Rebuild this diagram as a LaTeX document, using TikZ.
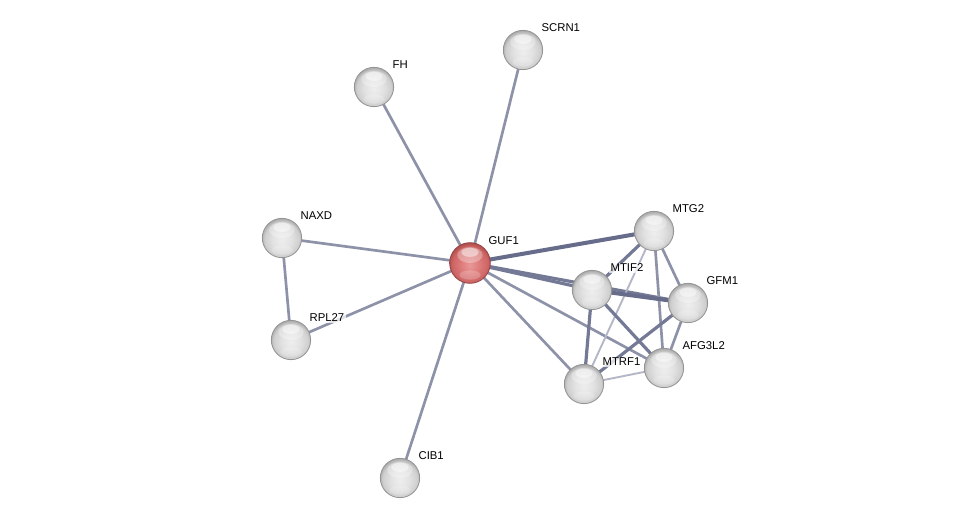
\documentclass[tikz,border=0pt]{standalone}
\usepackage{fontspec}
\setmainfont{Liberation Sans}
\definecolor{gA}{HTML}{EEEEEE}
\definecolor{gB}{HTML}{E2E2E2}
\definecolor{gC}{HTML}{CFCFCF}
\definecolor{gD}{HTML}{A4A4A4}
\definecolor{rA}{HTML}{EA9898}
\definecolor{rB}{HTML}{DD7A7A}
\definecolor{rC}{HTML}{CD6464}
\definecolor{rD}{HTML}{A84A4A}
\pgfdeclareradialshading{greyball}{\pgfpoint{0bp}{-3bp}}{%
  color(0bp)=(gA); color(12bp)=(gB); color(22bp)=(gC); color(27bp)=(gD); color(50bp)=(gD)}
\pgfdeclareradialshading{redball}{\pgfpoint{0bp}{-3bp}}{%
  color(0bp)=(rA); color(12bp)=(rB); color(22bp)=(rC); color(27bp)=(rD); color(50bp)=(rD)}
\definecolor{elight}{HTML}{B2B6C6}
\definecolor{emed}{HTML}{8D92A9}
\definecolor{edark}{HTML}{747A96}
\definecolor{ebd}{HTML}{666C8A}
\tikzset{
  shine/.style={path picture={
    \fill[white,opacity=0.3] ([yshift=6pt]path picture bounding box.center) ellipse (9.5pt and 6pt);
    \fill[white,opacity=0.45] ([yshift=8pt]path picture bounding box.center) ellipse (6.5pt and 3.4pt);
    \fill[white,opacity=0.2] ([yshift=-9pt]path picture bounding box.center) ellipse (8pt and 3.5pt);}},
  prot/.style={circle, minimum size=29.5pt, inner sep=0pt, shading=greyball, draw=white!58!black, line width=0.6pt, shine},
  hub/.style={circle, minimum size=30.5pt, inner sep=0pt, shading=redball, draw=rD!90!black, line width=0.6pt, shine},
  lbl/.style={anchor=west, font=\fontsize{8.5}{10}\selectfont, fill=white, fill opacity=0.75, text opacity=1, inner sep=1pt},
  ethin/.style={draw=elight, line width=1.4pt},
  emid/.style={draw=emed, line width=2pt},
  ethick/.style={draw=edark, line width=2.4pt},
  ebold/.style={draw=ebd, line width=3pt},
}
\begin{document}
\begin{tikzpicture}[x=0.75pt, y=-0.75pt]
\useasboundingbox[fill=white] (0,0) rectangle (976,523);
% node coordinates
\coordinate (cGUF1) at (470,263);
\coordinate (cSCRN1) at (523,50);
\coordinate (cFH) at (374,87);
\coordinate (cNAXD) at (282,238);
\coordinate (cRPL27) at (291,340);
\coordinate (cCIB1) at (400,478);
\coordinate (cMTG2) at (654,231);
\coordinate (cMTIF2) at (592,290);
\coordinate (cGFM1) at (688,303);
\coordinate (cAFG3L2) at (664,368);
\coordinate (cMTRF1) at (584,384);
% edges
\path[emid] (cGUF1) -- (cSCRN1);
\path[emid] (cGUF1) -- (cFH);
\path[emid] (cGUF1) -- (cNAXD);
\path[emid] (cGUF1) -- (cRPL27);
\path[emid] (cGUF1) -- (cCIB1);
\path[emid] (cNAXD) -- (cRPL27);
\path[ebold] (cGUF1) -- (cMTG2);
\path[ethick] (cGUF1) -- (cMTIF2);
\path[ethick] (cGUF1) -- (cGFM1);
\path[emid] (cGUF1) -- (cAFG3L2);
\path[emid] (cGUF1) -- (cMTRF1);
\path[ethick] (cMTG2) -- (cMTIF2);
\path[emid] (cMTG2) -- (cGFM1);
\path[emid] (cMTG2) -- (cAFG3L2);
\path[ethin] (cMTG2) -- (cMTRF1);
\path[ebold] (cMTIF2) -- (cGFM1);
\path[ethick] (cMTIF2) -- (cMTRF1);
\path[ethick] (cMTIF2) -- (cAFG3L2);
\path[emid] (cGFM1) -- (cAFG3L2);
\path[ethick] (cGFM1) -- (cMTRF1);
\path[ethin] (cMTRF1) -- (cAFG3L2);
% nodes
\node[hub] (GUF1) at (cGUF1) {};
\node[prot] (SCRN1) at (cSCRN1) {};
\node[prot] (FH) at (cFH) {};
\node[prot] (NAXD) at (cNAXD) {};
\node[prot] (RPL27) at (cRPL27) {};
\node[prot] (CIB1) at (cCIB1) {};
\node[prot] (MTG2) at (cMTG2) {};
\node[prot] (MTIF2) at (cMTIF2) {};
\node[prot] (GFM1) at (cGFM1) {};
\node[prot] (AFG3L2) at (cAFG3L2) {};
\node[prot] (MTRF1) at (cMTRF1) {};
% labels
\node[lbl] (lGUF1) at ([shift={(17,-22)}]cGUF1) {GUF1};
\node[lbl] (lSCRN1) at ([shift={(17,-22)}]cSCRN1) {SCRN1};
\node[lbl] (lFH) at ([shift={(17,-22)}]cFH) {FH};
\node[lbl] (lNAXD) at ([shift={(17,-22)}]cNAXD) {NAXD};
\node[lbl] (lRPL27) at ([shift={(17,-22)}]cRPL27) {RPL27};
\node[lbl] (lCIB1) at ([shift={(17,-22)}]cCIB1) {CIB1};
\node[lbl] (lMTG2) at ([shift={(17,-22)}]cMTG2) {MTG2};
\node[lbl] (lMTIF2) at ([shift={(17,-22)}]cMTIF2) {MTIF2};
\node[lbl] (lGFM1) at ([shift={(17,-22)}]cGFM1) {GFM1};
\node[lbl] (lAFG3L2) at ([shift={(17,-22)}]cAFG3L2) {AFG3L2};
\node[lbl] (lMTRF1) at ([shift={(17,-22)}]cMTRF1) {MTRF1};
\end{tikzpicture}
\end{document}
